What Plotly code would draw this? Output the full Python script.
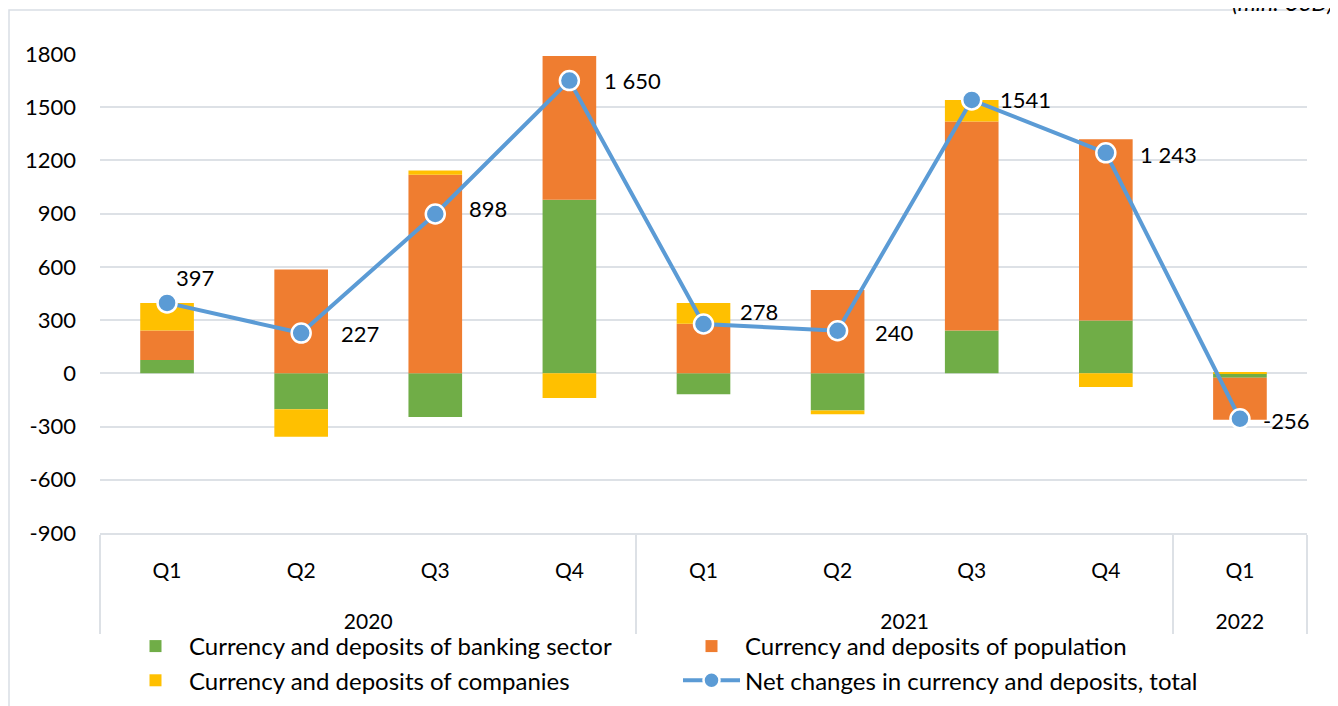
import plotly.graph_objects as go

years = ["2020", "2020", "2020", "2020", "2021", "2021", "2021", "2021", "2022"]
quarters = ["Q1", "Q2", "Q3", "Q4", "Q1", "Q2", "Q3", "Q4", "Q1"]
banking = [75, -203, -246, 979, -118, -210, 242, 298, -25]
population = [167, 585, 1120, 810, 280, 470, 1177, 1022, -236]
companies = [155, -155, 24, -139, 116, -20, 122, -77, 5]
total = [397, 227, 898, 1650, 278, 240, 1541, 1243, -256]
total_labels = ["397", "227", "898", "1 650", "278", "240", "1541", "1 243", "-256"]
y_ticks = [-900, -600, -300, 0, 300, 600, 900, 1200, 1500, 1800]
y_tick_labels = ["-900", "-600", "-300", "0", "300", "600", "900", "1200", "1500", "1800"]

# label offsets (px) relative to the marker
label_dx = [7, 38, 32, 33, 34, 35, 26, 32, 21]
label_dy = [25, 0, 6, 0, 13, -2, 0, -2, -2]

FONT = "Lato"
# year labels sit lower than the quarter labels
x = [["<br><span style='baseline-shift:-15px'>" + y + "</span>" for y in years], quarters]

W, H = 1330, 698  # page body has an 8px margin

fig = go.Figure()
fig.add_trace(go.Bar(x=x, y=banking, name="Currency and deposits of banking sector",
                     marker=dict(color="#70AD47", line=dict(width=0))))
fig.add_trace(go.Bar(x=x, y=population, name="Currency and deposits of population",
                     marker=dict(color="#EF7D30", line=dict(width=0))))
fig.add_trace(go.Bar(x=x, y=companies, name="Currency and deposits of companies",
                     marker=dict(color="#FFC000", line=dict(width=0))))
fig.add_trace(go.Scatter(x=x, y=total, name="Net changes in currency and deposits, total",
                         mode="lines+markers",
                         line=dict(color="#5B9BD5", width=4),
                         marker=dict(size=19, color="#5B9BD5", line=dict(color="white", width=2.5))))

for i, (v, t) in enumerate(zip(total, total_labels)):
    fig.add_annotation(x=i, y=v, text=t, showarrow=False, xanchor="left", yanchor="middle",
                       xshift=label_dx[i], yshift=label_dy[i],
                       font=dict(family=FONT, size=22, color="black"))

fig.add_annotation(xref="paper", yref="paper", x=1.0 + 28 / 1207, y=1.0 + 36 / 479,
                   text="<i>(mln. USD)</i>",
                   showarrow=False, xanchor="right", yanchor="bottom",
                   font=dict(family=FONT, size=23, color="black"))

fig.add_shape(type="rect", xref="paper", yref="paper",
              x0=-91 / 1207, x1=1.0 + 24 / 1207, y0=-0.5, y1=1.0 + 44 / 479,
              line=dict(color="#D9DEE5", width=1.5), fillcolor="rgba(0,0,0,0)", layer="below")

fig.update_layout(
    width=W, height=H,
    margin=dict(l=92, r=31, t=46, b=173, autoexpand=False),
    barmode="relative", bargap=0.6,
    plot_bgcolor="white", paper_bgcolor="white",
    font=dict(family=FONT, size=20, color="black"),
    legend=dict(orientation="h", x=114 / W, xref="container", xanchor="left",
                y=0.1175, yref="container", yanchor="top",
                entrywidth=484, entrywidthmode="pixels", font=dict(size=24),
                itemwidth=57, traceorder="normal", tracegroupgap=0,
                bgcolor="rgba(0,0,0,0)"),
    yaxis=dict(range=[-900, 1800], tickvals=y_ticks, ticktext=y_tick_labels,
               showgrid=True, gridcolor="#DDE1E6",
               gridwidth=1.5, zeroline=True, zerolinecolor="#DDE1E6", zerolinewidth=1.5,
               showline=False, ticks="", ticklabelstandoff=23, tickfont=dict(size=22),
               automargin=False),
    xaxis=dict(range=[-0.5, 8.5], showline=True, linecolor="#DDE1E6", linewidth=1.5,
               showgrid=False, dividercolor="#DDE1E6", dividerwidth=1.5,
               tickfont=dict(size=21), ticks="", ticklabelstandoff=18, automargin=False),
)

fig.write_html("out.html")
